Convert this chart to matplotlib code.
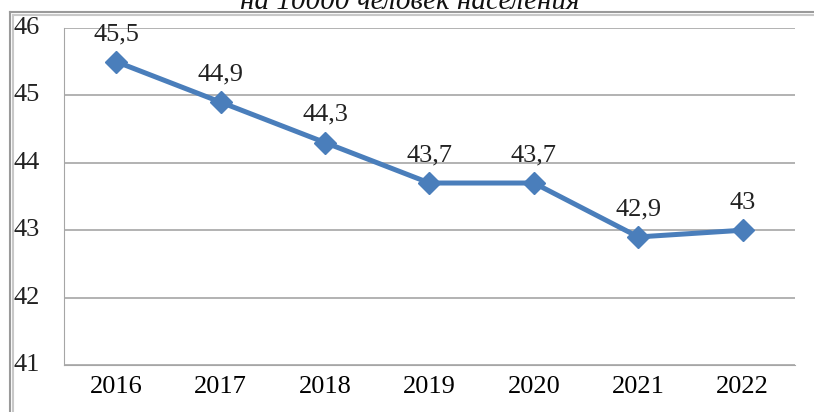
import matplotlib.pyplot as plt
from matplotlib.lines import Line2D

years = ['2016', '2017', '2018', '2019', '2020', '2021', '2022']
values = [45.5, 44.9, 44.3, 43.7, 43.7, 42.9, 43.0]
labels = ['45,5', '44,9', '44,3', '43,7', '43,7', '42,9', '43']

plt.rcParams['font.family'] = ['Liberation Serif', 'DejaVu Serif']

fig = plt.figure(figsize=(8.14, 4.12), dpi=100)
ax = fig.add_axes([64 / 814, 1 - 365 / 412, 731 / 814, 337 / 412])

x = range(len(years))
ax.plot(x, values, color='#4a7ebb', lw=3.6, marker='D', markersize=11, zorder=3)
for xi, v, lab in zip(x, values, labels):
    ax.annotate(lab, (xi, v), xytext=(0, 12), textcoords='offset points',
                ha='center', va='bottom', fontsize=19, color='#222222')

ax.set_xlim(-0.5, len(years) - 0.5)
ax.set_ylim(41, 46)
ax.set_yticks([41, 42, 43, 44, 45, 46])
ax.set_xticks(list(x))
ax.set_xticklabels(years, fontsize=19)
ax.set_yticklabels([])
ax.tick_params(length=0, pad=8)
ax.grid(axis='y', color='#a6a6a6', lw=1.2)
for s in ['top', 'right']:
    ax.spines[s].set_visible(False)
ax.spines['left'].set_color('#a6a6a6')
ax.spines['bottom'].set_color('#a6a6a6')

# y labels sit near the outer frame, left aligned
for t in [41, 42, 43, 44, 45, 46]:
    ypix = 365 - (t - 41) * 337 / 5
    fig.text(13 / 814, 1 - ypix / 412, str(t), ha='left', va='center',
             fontsize=19, color='#222222')

# outer frame of the chart (double grey line)
for off, c in [(0, '#9a9a9a'), (3, '#c8c8c8')]:
    fig.add_artist(Line2D([(10 + off) / 814, (10 + off) / 814], [0, 1 - (12 + off) / 412],
                          transform=fig.transFigure, color=c, lw=1.5))
    fig.add_artist(Line2D([(10 + off) / 814, 1], [1 - (12 + off) / 412, 1 - (12 + off) / 412],
                          transform=fig.transFigure, color=c, lw=1.5))

fig.text(410 / 814, 1 - 9 / 412, 'на 10000 человек населения', ha='center',
         va='baseline', fontsize=21, style='italic', color='#111111')

fig.savefig('out.png', dpi=100)
